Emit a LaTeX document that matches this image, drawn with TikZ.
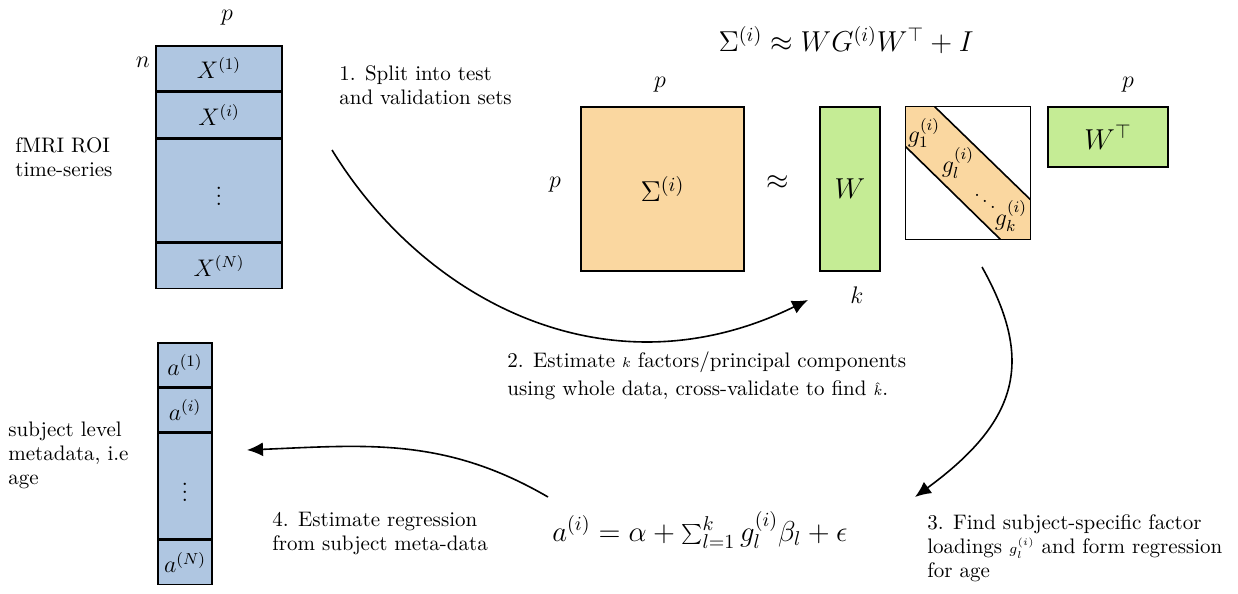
\documentclass[tikz,border=0pt]{standalone}
\usepackage{xcolor}
\usepackage{tikz}
\usetikzlibrary{positioning,arrows.meta}
\definecolor{roiblue}{HTML}{AFC6E1}
\definecolor{covorange}{HTML}{FAD7A0}
\definecolor{loadgreen}{HTML}{C5EC95}
\tikzset{
  matbox/.style={draw, thick, inner sep=0pt},
  xrow/.style={matbox, fill=roiblue, minimum width=63pt, minimum height=22.5pt, anchor=north, font=\large},
  arow/.style={matbox, fill=roiblue, minimum width=27pt, minimum height=22pt, anchor=north, font=\large},
  steptext/.style={anchor=west, align=left, inner sep=0pt, font=\fontsize{10.5pt}{12pt}\selectfont},
  flow/.style={thick, -{Latex[length=8pt,width=7pt]}}
}

\begin{document}
\begin{tikzpicture}[x=0.5pt, y=-0.5pt]
    \useasboundingbox (0,0) rectangle (1238,594);

    \node[xrow] (x1) at (219,45) {$X^{(1)}$};
    \node[xrow, below=0pt of x1] (xi) {$X^{(i)}$};
    \node[xrow, below=0pt of xi, minimum height=51.5pt] (xdots) {$\vdots$};
    \node[xrow, below=0pt of xdots] (xN) {$X^{(N)}$};
    \node[font=\large] (xp) at (227,18) {$p$};
    \node[font=\large] (xn) at (143,62) {$n$};
    \node[steptext] (roi) at (15,157) {fMRI ROI\\time-series};

    \node[arow] (a1) at (185,342) {$a^{(1)}$};
    \node[arow, below=0pt of a1, minimum height=21.5pt] (ai) {$a^{(i)}$};
    \node[arow, below=0pt of ai, minimum height=53pt] (adots) {$\vdots$};
    \node[arow, below=0pt of adots] (aN) {$a^{(N)}$};
    \node[steptext] (meta) at (8,455) {subject level\\metadata, i.e\\age};

    \node[font=\Large] (model) at (846,40) {$\Sigma^{(i)} \approx W G^{(i)} W^{\top} + I$};

    \node[matbox, fill=covorange, minimum width=81.5pt, minimum height=82pt, font=\Large] (sigma) at (662.5,189) {$\Sigma^{(i)}$};
    \node[font=\large] (sp1) at (660,85) {$p$};
    \node[font=\large] (sp2) at (555,185) {$p$};
    \node[font=\Large] (approx) at (778,183) {$\approx$};

    \node[matbox, fill=loadgreen, minimum width=30pt, minimum height=82pt, font=\Large] (W) at (850,189) {$W$};
    \node[font=\large] (wk) at (857,295) {$k$};

    \node[minimum width=62pt, minimum height=66pt, inner sep=0pt] (G) at (968,173) {};
    \fill[covorange] (G.north west) -- ([xshift=14.5pt]G.north west) -- ([yshift=-46.5pt]G.north east)
        -- (G.south east) -- ([xshift=-15pt]G.south east) -- ([yshift=-20pt]G.north west) -- cycle;
    \draw[thick] ([xshift=14.5pt]G.north west) -- ([yshift=-46.5pt]G.north east);
    \draw[thick] ([yshift=-20pt]G.north west) -- ([xshift=-15pt]G.south east);
    \draw[thick] (G.north west) rectangle (G.south east);
    \node[font=\large] (g1) at (924,133) {$g_1^{(i)}$};
    \node[font=\large] (gl) at (958,163) {$g_l^{(i)}$};
    \node (gdots) at (985,195) {$\ddots$};
    \node[font=\large] (gk) at (1011,216) {$g_k^{(i)}$};

    \node[matbox, fill=loadgreen, minimum width=60pt, minimum height=30pt, font=\Large] (Wt) at (1108,137) {$W^{\top}$};
    \node[font=\large] (wtp) at (1128,85) {$p$};

    \node[steptext] (step1) at (339,85) {1. Split into test\\and validation sets};
    \node[steptext] (step2) at (507,376) {2. Estimate $\scriptstyle k$ factors/principal components\\[2pt]using whole data, cross-validate to find $\scriptstyle\hat{k}$.};
    \node[steptext] (step3) at (927,548) {3. Find subject-specific factor\\loadings $\scriptstyle g_l^{(i)}$ and form regression\\for age};
    \node[steptext] (step4) at (272,534) {4. Estimate regression\\from subject meta-data};
    \node[font=\Large] (regr) at (700,530) {$a^{(i)} = \alpha + \sum_{l=1}^{k} g_l^{(i)} \beta_l + \epsilon$};

    \coordinate (c1s) at (332,150);
    \coordinate (c1e) at (808,300);
    \coordinate (c3s) at (982,267);
    \coordinate (c3e) at (915,497);
    \coordinate (c4s) at (548,497);
    \coordinate (c4e) at (247,450);

    \draw[flow] (c1s) .. controls (426,303) and (610,397) .. (c1e);
    \draw[flow] (c3s) .. controls (1034,360) and (1020,420) .. (c3e);
    \draw[flow] (c4s) .. controls (445,437) and (367,445) .. (c4e);
\end{tikzpicture}
\end{document}
